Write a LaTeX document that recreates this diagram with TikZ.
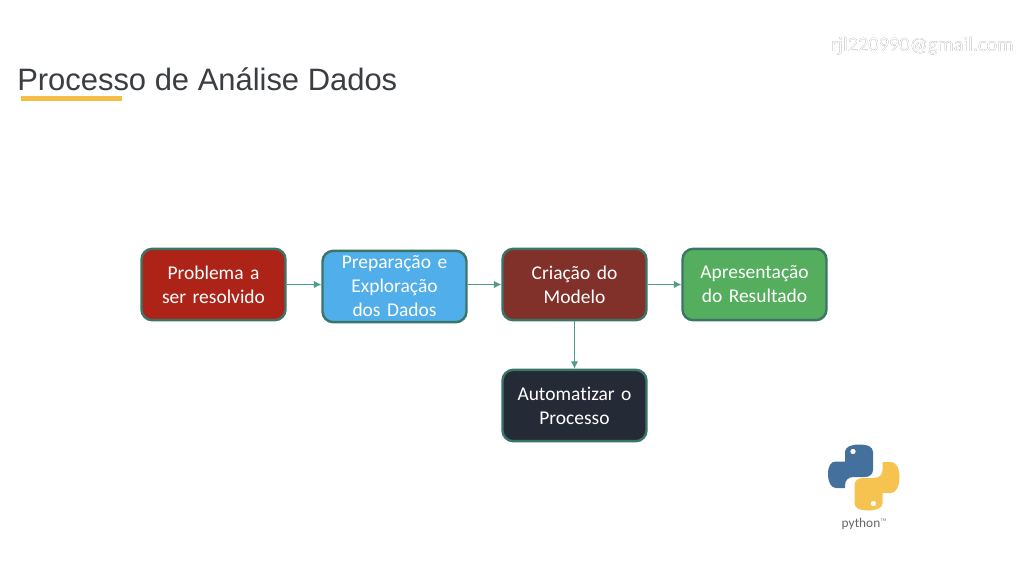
\documentclass[tikz,border=0pt]{standalone}
\usepackage{fontspec}
\setmainfont{Carlito}[Ligatures=NoCommon]
\newfontfamily\titlefont{Liberation Sans}
\usepackage[outline]{contour}
\contourlength{1.2pt}
\contournumber{24}
\usetikzlibrary{arrows.meta,backgrounds}
\definecolor{linegreen}{HTML}{4E9C8A}
\definecolor{edgegreen}{HTML}{3A7568}
\definecolor{probred}{HTML}{AE2318}
\definecolor{prepblue}{HTML}{50AEEA}
\definecolor{modelbrown}{HTML}{82312A}
\definecolor{resultgreen}{HTML}{54AE5E}
\definecolor{autodark}{HTML}{252B36}
\definecolor{titlegray}{HTML}{3A3D42}
\definecolor{barorange}{HTML}{F6BE45}
\definecolor{pyblue}{HTML}{44709E}
\definecolor{pyyellow}{HTML}{F6C350}
\definecolor{pygray}{HTML}{666666}
\tikzset{
    box/.style={draw=edgegreen, line width=1.8pt, rounded corners=8pt, minimum width=108pt,
        minimum height=53.5pt, inner sep=0pt, text=white, align=center, text width=107pt,
        font=\fontsize{14.6}{18}\selectfont},
    link/.style={draw=linegreen, line width=0.7pt, -{Latex[length=5.5pt,width=5.5pt]}}
}
\begin{document}
\begin{tikzpicture}[x=0.75pt, y=-0.75pt]
        \useasboundingbox (0,0) rectangle (1026,564);
        \fill[white] (0,0) rectangle (1026,564);
        % heading
        \node[anchor=base west, inner sep=0pt, text=titlegray, font=\titlefont\fontsize{23.2}{27}\selectfont] (title) at (17,90) {Processo de Análise Dados};
        \fill[barorange] (21,96) rectangle (122,100.5);
        % mail address with its glow
        \node[anchor=base east, inner sep=0pt, text=white, font=\fontsize{15.3}{18}\selectfont] (mail) at (1014,51) {\contour{black!60}{rjl220990@gmail.com}};
        % process boxes
        \node[box, fill=probred] (problema) at (213.5,284.5) {Problema a\\ser resolvido};
        \node[box, fill=prepblue] (preparacao) at (394.5,286.5) {Preparação e\\Exploração\\dos Dados};
        \node[box, fill=modelbrown] (criacao) at (574.5,284.5) {Criação do\\Modelo};
        \node[box, fill=resultgreen] (apresentacao) at (754.5,284.5) {Apresentação\\do Resultado};
        \node[box, fill=autodark] (automatizar) at (574.5,405.5) {Automatizar o\\Processo};
        % connectors
        \draw[link] (problema.east) -- (problema.east -| preparacao.west);
        \draw[link] (criacao.west -| preparacao.east) -- (criacao.west);
        \draw[link] (criacao.east) -- (apresentacao.west);
        \draw[link] (criacao.south) -- (automatizar.north);
        % python logo
        \fill[pyblue, even odd rule] (845,461.5) -- (845,452) .. controls (845,447) and (851,444.5) .. (859,444.5)
            .. controls (868,444.5) and (873,447) .. (873,452) -- (873,470) .. controls (873,474.5) and (869,477) .. (865,477)
            -- (853,477) .. controls (848,477) and (845,481) .. (845,485) -- (845,488) -- (836,488)
            .. controls (831,488) and (828,482) .. (828,474) .. controls (828,466) and (831,461.5) .. (836,461.5) -- cycle
            (853,451.5) circle (2.8);
        \fill[pyyellow, even odd rule] (882.5,493) -- (882.5,503) .. controls (882.5,508) and (876.5,510.5) .. (868.5,510.5)
            .. controls (859.5,510.5) and (854.5,508) .. (854.5,503) -- (854.5,485) .. controls (854.5,480.5) and (858.5,478) .. (862.5,478)
            -- (874.5,478) .. controls (879.5,478) and (882.5,474) .. (882.5,470) -- (882.5,462) -- (891,462)
            .. controls (896,462) and (899.5,468) .. (899.5,477) .. controls (899.5,486) and (896,493) .. (891,493) -- cycle
            (873.5,503.5) circle (2.8);
        \node[anchor=base, inner sep=0pt, text=pygray, font=\fontsize{10}{12}\selectfont] (python) at (861,527) {python};
        \node[anchor=base west, inner sep=0pt, text=pygray, font=\fontsize{3}{4}\selectfont, yshift=4pt] (pytm) at (python.base east) {TM};
\end{tikzpicture}
\end{document}
